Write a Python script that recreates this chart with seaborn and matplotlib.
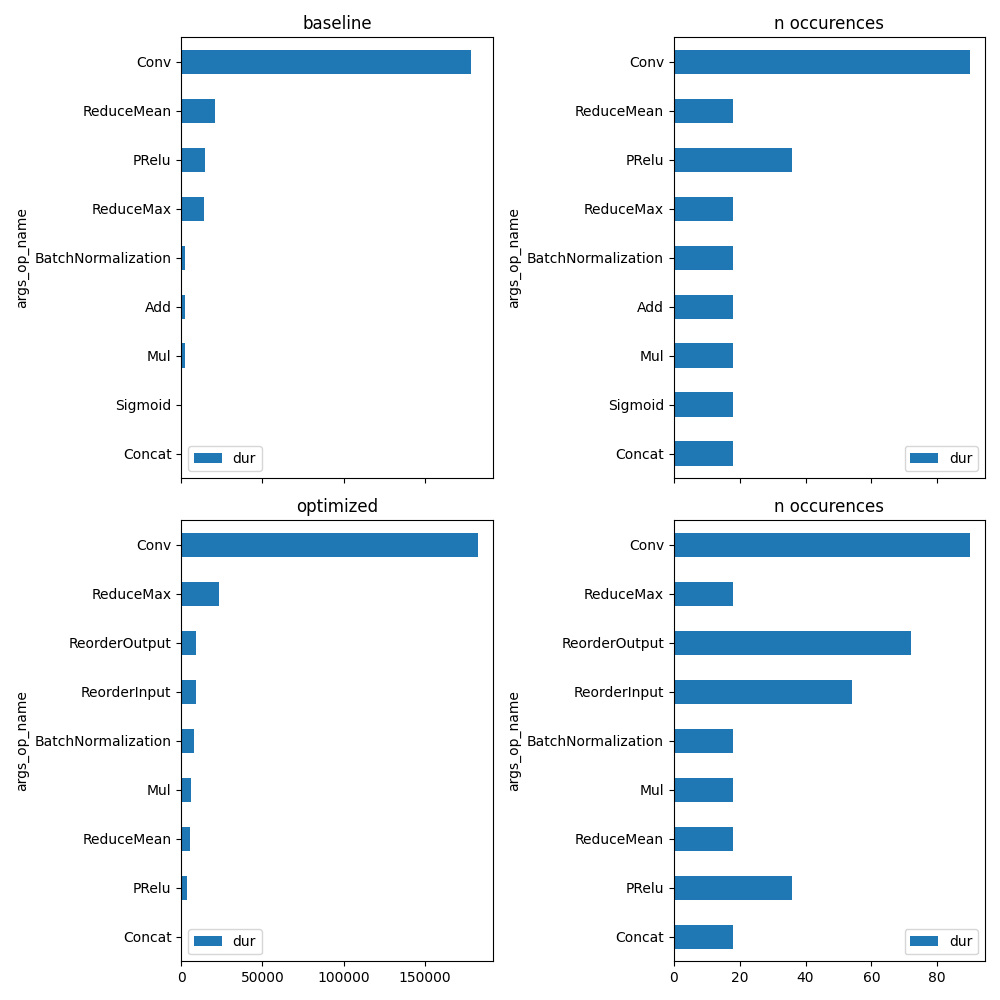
import matplotlib
matplotlib.use("Agg")
import matplotlib.pyplot as plt
import seaborn as sns
import pandas as pd

baseline_ops = ["Conv", "ReduceMean", "PRelu", "ReduceMax", "BatchNormalization",
                "Add", "Mul", "Sigmoid", "Concat"]
baseline_dur = [178200, 20700, 14600, 13900, 2300, 2300, 2300, 200, 0]
baseline_count = [90, 18, 36, 18, 18, 18, 18, 18, 18]

optimized_ops = ["Conv", "ReduceMax", "ReorderOutput", "ReorderInput",
                 "BatchNormalization", "Mul", "ReduceMean", "PRelu", "Concat"]
optimized_dur = [182500, 23200, 9000, 9000, 7800, 6000, 5300, 3500, 0]
optimized_count = [90, 18, 72, 54, 18, 18, 18, 36, 18]

color = "#1f77b4"

fig, axes = plt.subplots(2, 2, figsize=(10, 10), dpi=100, sharex="col")

panels = [
    (axes[0, 0], baseline_ops, baseline_dur, "baseline", "lower left"),
    (axes[0, 1], baseline_ops, baseline_count, "n occurences", "lower right"),
    (axes[1, 0], optimized_ops, optimized_dur, "optimized", "lower left"),
    (axes[1, 1], optimized_ops, optimized_count, "n occurences", "lower right"),
]

for ax, ops, vals, title, loc in panels:
    df = pd.DataFrame({"args_op_name": ops, "dur": vals})
    sns.barplot(data=df, x="dur", y="args_op_name", orient="h", width=0.5,
                color=color, saturation=1, linewidth=0, errorbar=None,
                label="dur", ax=ax)
    ax.set_title(title)
    ax.set_xlabel("")
    ax.set_ylabel("args_op_name")
    ax.legend(loc=loc)

axes[0, 0].set_xlim(0, 182500 * 1.05)
axes[0, 1].set_xlim(0, 90 * 1.05)

fig.tight_layout()
fig.savefig("out.png", dpi=100)
